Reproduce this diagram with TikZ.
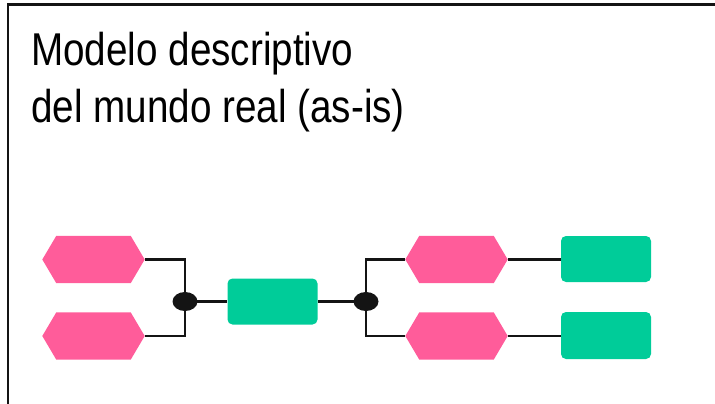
\documentclass[tikz,border=0pt]{standalone}
\usepackage{fontspec}
\setmainfont{Liberation Sans}[FakeStretch=0.84]
\usetikzlibrary{calc,shapes.geometric}
\pgfdeclarelayer{background}
\pgfsetlayers{background,main}
\definecolor{hexpink}{HTML}{FF5C9A}
\definecolor{boxgreen}{HTML}{00CC99}
\definecolor{inkdark}{HTML}{141414}
\begin{document}
\begin{tikzpicture}[x=1pt,y=-1pt,
  hexbox/.style={inner sep=0pt, minimum width=102pt, minimum height=47pt},
  greenbox/.style={fill=boxgreen, rounded corners=5pt, inner sep=0pt, minimum width=90pt, minimum height=46pt},
  joint/.style={ellipse, fill=inkdark, inner sep=0pt, minimum width=25pt, minimum height=19pt},
  wire/.style={draw=inkdark, line width=2.4pt},
  frameline/.style={draw=inkdark, line width=2.2pt}]
\useasboundingbox (0,0) rectangle (715,404);
\draw[frameline] (8,404) -- (8,4.5) -- (715,4.5);
\node[anchor=base west, align=left, font=\fontsize{46pt}{57pt}\selectfont, text=black, inner sep=0pt] (title) at (31,122) {Modelo descriptivo\\del mundo real (as-is)};
% hexagons
\node[hexbox] (l1) at (93.5,259.5) {};
\node[hexbox] (l2) at (93.5,336) {};
\node[hexbox] (r1) at (456.5,259.5) {};
\node[hexbox] (r2) at (456.5,336) {};
\foreach \h in {l1,l2,r1,r2}{
  \fill[hexpink] (\h.west) -- ($(\h.north west)+(14,0)$) -- ($(\h.north east)+(-14,0)$) -- (\h.east) -- ($(\h.south east)+(-14,0)$) -- ($(\h.south west)+(14,0)$) -- cycle;
}
\node[joint] (d1) at (185,301.5) {};
\node[joint] (d2) at (366,301.5) {};
\node[greenbox] (m) at (272.5,301.5) {};
\node[greenbox] (g1) at (606,259) {};
\node[greenbox, minimum height=47pt] (g2) at (606,335.5) {};
\begin{pgfonlayer}{background}
\draw[wire] (l1.east) -| (d1.center) |- (l2.east);
\draw[wire] (d1.center) -- (m.west);
\draw[wire] (m.east) -- (d2.center);
\draw[wire] (r1.west) -| (d2.center) |- (r2.west);
\draw[wire] (r1.east) -- (r1.east -| g1.west);
\draw[wire] (r2.east) -- (r2.east -| g2.west);
\end{pgfonlayer}
\end{tikzpicture}
\end{document}
